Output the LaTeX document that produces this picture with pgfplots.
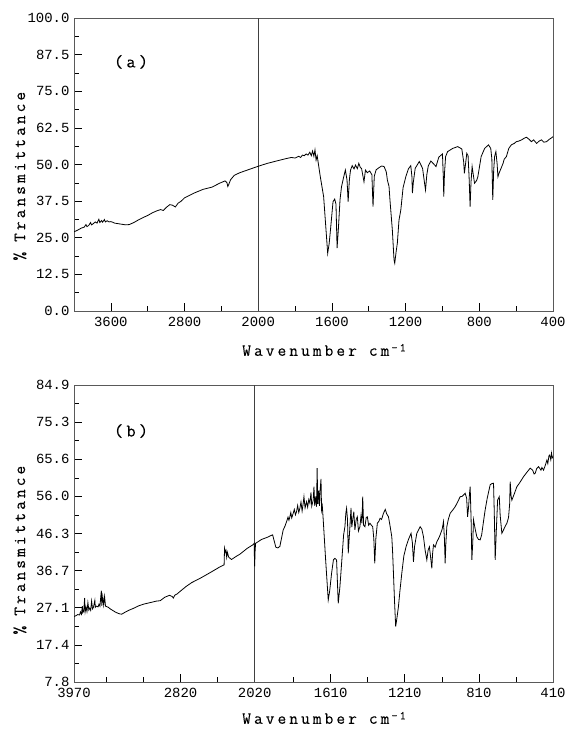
\documentclass[border=0pt]{standalone}
\usepackage{fontspec}
\setmainfont{Liberation Serif}
\newfontfamily\tickfont{Liberation Mono}
\newfontfamily\labfont[LetterSpace=18,FakeBold=0.2]{Latin Modern Mono}
\usepackage{pgfplots}
\pgfplotsset{compat=1.18}
\usepackage{pgfplotstable}

\pgfplotstableread{
w T
4000 27.0
3960 27.6
3920 28.3
3890 28.6
3870 29.5
3860 28.8
3840 29.2
3820 30.2
3810 29.4
3790 29.8
3770 30.4
3750 30.0
3730 31.3
3720 30.2
3700 30.9
3690 30.3
3670 31.2
3660 30.4
3640 30.8
3620 30.4
3600 30.5
3580 30.3
3560 30.0
3520 29.8
3480 29.6
3440 29.4
3400 29.5
3350 30.2
3300 31.1
3250 31.9
3200 32.6
3150 33.5
3100 34.2
3060 34.6
3030 34.3
3000 35.3
2960 36.3
2930 36.1
2900 35.5
2870 36.8
2840 37.4
2800 38.6
2700 40.2
2600 41.5
2500 42.3
2420 43.6
2360 44.4
2340 43.8
2330 42.5
2320 43.2
2300 44.8
2260 46.3
2200 47.2
2100 48.3
2000 49.4
1950 50.4
1900 51.2
1850 52.0
1820 52.4
1800 52.2
1780 52.8
1770 52.4
1760 53.2
1750 53.0
1740 53.6
1730 53.2
1720 54.2
1712 53.0
1705 54.6
1698 52.8
1692 55.0
1686 51.5
1680 53.0
1674 50.4
1663 45.8
1645 39.0
1632 27.6
1623 19.7
1615 23.0
1608 27.6
1594 37.3
1585 38.2
1578 36.5
1572 21.5
1565 28.0
1556 38.0
1548 42.4
1536 45.8
1527 48.1
1518 44.7
1512 37.3
1505 45.0
1499 48.1
1490 49.6
1480 48.5
1472 49.8
1462 48.6
1454 50.4
1446 49.0
1439 48.6
1426 44.1
1418 48.1
1408 47.2
1395 47.8
1383 46.5
1377 35.6
1370 46.0
1360 48.2
1345 48.9
1330 49.5
1317 49.3
1305 47.5
1299 44.7
1290 42.5
1285 37.9
1272 27.6
1263 17.5
1259 16.3
1252 20.0
1245 23.1
1236 31.0
1226 34.5
1214 42.0
1199 45.8
1185 48.5
1172 49.6
1166 46.0
1163 40.2
1158 44.0
1148 48.7
1126 51.0
1108 48.7
1098 44.0
1092 41.3
1085 46.5
1077 49.5
1063 51.2
1045 50.0
1035 49.3
1020 52.5
1000 53.6
995 45.0
993 39.0
989 47.0
983 52.7
972 54.4
944 55.5
917 56.1
895 55.3
885 51.0
881 47.0
875 50.0
868 53.8
861 53.0
855 45.0
850 35.6
845 44.0
839 49.3
826 43.6
815 44.5
808 45.8
790 52.7
771 55.5
750 56.7
738 55.5
732 52.0
727 37.9
722 48.0
717 52.7
710 54.4
703 50.0
699 45.8
693 47.0
680 49.0
671 50.4
665 51.8
653 52.7
640 55.5
626 56.7
610 57.2
599 57.8
585 58.0
571 58.4
555 59.0
544 59.3
530 58.6
517 57.8
505 58.4
489 57.2
475 58.0
462 58.4
450 57.6
435 57.8
420 58.6
410 59.0
400 59.5
}\specA

\pgfplotstableread{
w T
3970 24.8
3950 25.0
3930 25.3
3910 25.2
3900 26.0
3890 25.4
3880 27.5
3875 25.8
3865 26.2
3855 29.6
3850 26.0
3840 27.2
3830 26.1
3820 28.4
3810 26.5
3800 27.0
3790 26.4
3780 28.8
3770 26.8
3760 27.2
3745 29.0
3740 27.2
3730 27.5
3710 27.3
3700 28.0
3690 27.5
3675 31.5
3670 27.6
3660 30.0
3650 27.8
3640 30.0
3630 27.5
3620 27.4
3600 27.2
3580 26.8
3560 26.5
3520 25.9
3480 25.5
3455 25.4
3420 25.9
3380 26.4
3330 26.9
3280 27.5
3220 28.0
3150 28.4
3080 28.8
3040 28.9
2990 29.8
2940 30.3
2910 30.0
2898 29.6
2880 30.4
2860 30.6
2826 31.3
2760 32.6
2700 33.6
2610 34.7
2500 36.2
2394 37.7
2350 38.2
2345 42.4
2338 41.5
2330 42.0
2322 40.2
2315 41.5
2300 40.2
2270 39.6
2220 40.4
2178 41.0
2100 42.5
2040 43.4
2025 43.8
2022 39.0
2020 37.8
2018 41.5
2015 43.8
1983 44.8
1950 45.4
1938 45.7
1923 46.0
1915 44.5
1906 42.8
1895 42.6
1884 43.0
1866 47.3
1857 48.2
1848 49.4
1840 50.6
1835 49.8
1830 50.7
1825 51.8
1820 50.4
1812 51.6
1806 52.6
1800 51.2
1794 52.0
1788 53.6
1782 51.8
1776 52.9
1770 54.5
1764 52.2
1758 54.2
1754 55.9
1748 53.0
1740 54.6
1734 53.2
1728 55.2
1722 54.2
1716 57.0
1712 53.5
1704 55.0
1700 58.5
1696 53.5
1690 56.0
1686 53.3
1683 63.3
1679 54.0
1675 57.5
1670 53.5
1668 56.8
1662 60.5
1659 52.5
1655 53.5
1650 49.9
1637 39.5
1623 29.1
1615 31.5
1605 36.0
1595 39.5
1587 39.9
1578 39.5
1569 28.2
1560 32.5
1547 41.2
1540 46.0
1533 48.1
1528 51.6
1524 52.9
1519 50.0
1515 41.2
1510 45.0
1506 48.1
1500 53.0
1496 48.0
1491 49.9
1485 52.0
1479 47.3
1472 50.0
1466 50.7
1460 47.0
1452 48.1
1446 51.0
1441 49.0
1437 55.9
1432 48.5
1425 48.1
1418 50.5
1412 50.7
1405 48.5
1398 49.0
1390 48.5
1383 48.1
1377 45.0
1372 38.6
1366 45.0
1358 49.0
1350 49.5
1343 50.3
1335 50.0
1325 51.6
1315 52.6
1308 51.5
1298 50.7
1290 48.5
1280 45.5
1276 42.0
1271 36.0
1265 28.5
1259 22.2
1252 24.5
1244 27.4
1236 31.5
1226 36.0
1215 40.5
1203 42.9
1190 44.8
1176 46.4
1169 44.0
1163 39.0
1157 43.0
1145 46.4
1127 48.1
1118 47.5
1109 45.5
1100 42.0
1091 39.5
1084 42.0
1077 42.9
1070 40.0
1064 37.3
1060 41.0
1055 43.4
1046 42.8
1037 44.2
1028 45.0
1019 46.0
1008 47.5
1001 49.4
996 45.0
992 38.6
988 44.0
983 48.1
975 50.0
965 51.6
950 52.5
938 53.3
925 54.5
911 55.9
900 56.0
884 56.8
876 55.5
871 50.7
866 53.0
860 57.0
857 58.5
852 50.0
848 39.5
843 44.0
839 49.9
830 47.5
821 45.5
812 44.8
803 44.7
795 46.0
785 49.5
776 52.5
765 55.5
749 59.0
740 59.3
731 59.4
727 52.0
722 39.5
716 47.0
709 55.0
700 55.9
695 51.0
686 46.4
675 47.5
665 48.5
659 49.0
650 50.5
644 54.0
641 59.8
636 56.0
632 55.0
620 56.5
605 58.5
590 59.5
569 61.1
550 62.3
533 63.3
520 62.8
512 61.8
506 62.0
498 63.2
488 63.7
475 62.8
470 63.5
461 62.8
452 64.0
443 65.4
438 64.5
432 66.5
428 66.7
422 65.5
418 67.2
414 66.0
410 66.3
}\specB

\pgfplotsset{
  irstyle/.style={
    scale only axis, width=479bp, anchor=south west,
    tick align=inside, xtick pos=lower, ytick pos=left,
    major tick length=8bp, minor tick length=5bp,
    minor y tick num=1,
    axis line style={black!65, line width=0.5bp},
    tick style={black, line width=0.6bp},
    tick label style={font=\tickfont\fontsize{14}{14}\selectfont},
    xticklabel style={yshift=-3bp},
    yticklabel style={xshift=-1bp},
    label style={font=\labfont\fontsize{17}{17}\selectfont},
    y label style={anchor=center},
    x label style={anchor=center},
  }
}

\begin{document}
\begin{tikzpicture}
\path[use as bounding box] (0,0) rectangle (567bp,730bp);

\begin{axis}[irstyle,
  at={(74bp,419bp)}, height=293bp,
  x coord trafo/.code={\pgfmathparse{#1>=2000 ? (4000-#1)/2 : 3000-#1}},
  xmin=4000, xmax=400, ymin=0, ymax=100,
  xtick={3600,2800,2000,1600,1200,800,400},
  xticklabels={3600,2800,2000,1600,1200,800,400},
  minor xtick={3200,2400,1800,1400,1000,600},
  ytick={0,12.5,25,37.5,50,62.5,75,87.5,100},
  yticklabels={0.0,12.5,25.0,37.5,50.0,62.5,75.0,87.5,100.0},
  xlabel={Wavenumber\hspace{12bp}cm\hspace{2bp}\raisebox{0.6ex}{\fontsize{12}{12}\selectfont -1}},
  ylabel={\%\hspace{10bp}Transmittance},
  x label style={at={(axis description cs:0.522,-0.133)}},
  y label style={at={(axis description cs:-0.113,0.46)}},
]
\addplot[black!75, line width=0.6bp] coordinates {(2000,0) (2000,100)};
\addplot[black, line width=0.8bp] table[x=w, y=T] {\specA};
\node[font=\labfont\fontsize{18}{18}\selectfont] at (rel axis cs:0.119,0.85) {(a)};
\end{axis}

\begin{axis}[irstyle,
  at={(74bp,48bp)}, height=297bp,
  x coord trafo/.code={\pgfmathparse{#1>=2020 ? (3970-#1)/2 : 2995-#1}},
  xmin=3970, xmax=410, ymin=7.8, ymax=84.9,
  xtick={3970,2820,2020,1610,1210,810,410},
  xticklabels={3970,2820,2020,1610,1210,810,410},
  minor xtick={3620,3220,2420,1810,1410,1010,610},
  ytick={7.8,17.4375,27.075,36.7125,46.35,55.9875,65.625,75.2625,84.9},
  yticklabels={7.8,17.4,27.1,36.7,46.3,56.0,65.6,75.3,84.9},
  xlabel={Wavenumber\hspace{12bp}cm\hspace{2bp}\raisebox{0.6ex}{\fontsize{12}{12}\selectfont -1}},
  ylabel={\%\hspace{10bp}Transmittance},
  x label style={at={(axis description cs:0.522,-0.121)}},
  y label style={at={(axis description cs:-0.113,0.444)}},
]
\addplot[black!75, line width=0.6bp] coordinates {(2020,7.8) (2020,84.9)};
\addplot[black, line width=0.8bp] table[x=w, y=T] {\specB};
\node[font=\labfont\fontsize{18}{18}\selectfont] at (rel axis cs:0.119,0.845) {(b)};
\end{axis}
\end{tikzpicture}
\end{document}
